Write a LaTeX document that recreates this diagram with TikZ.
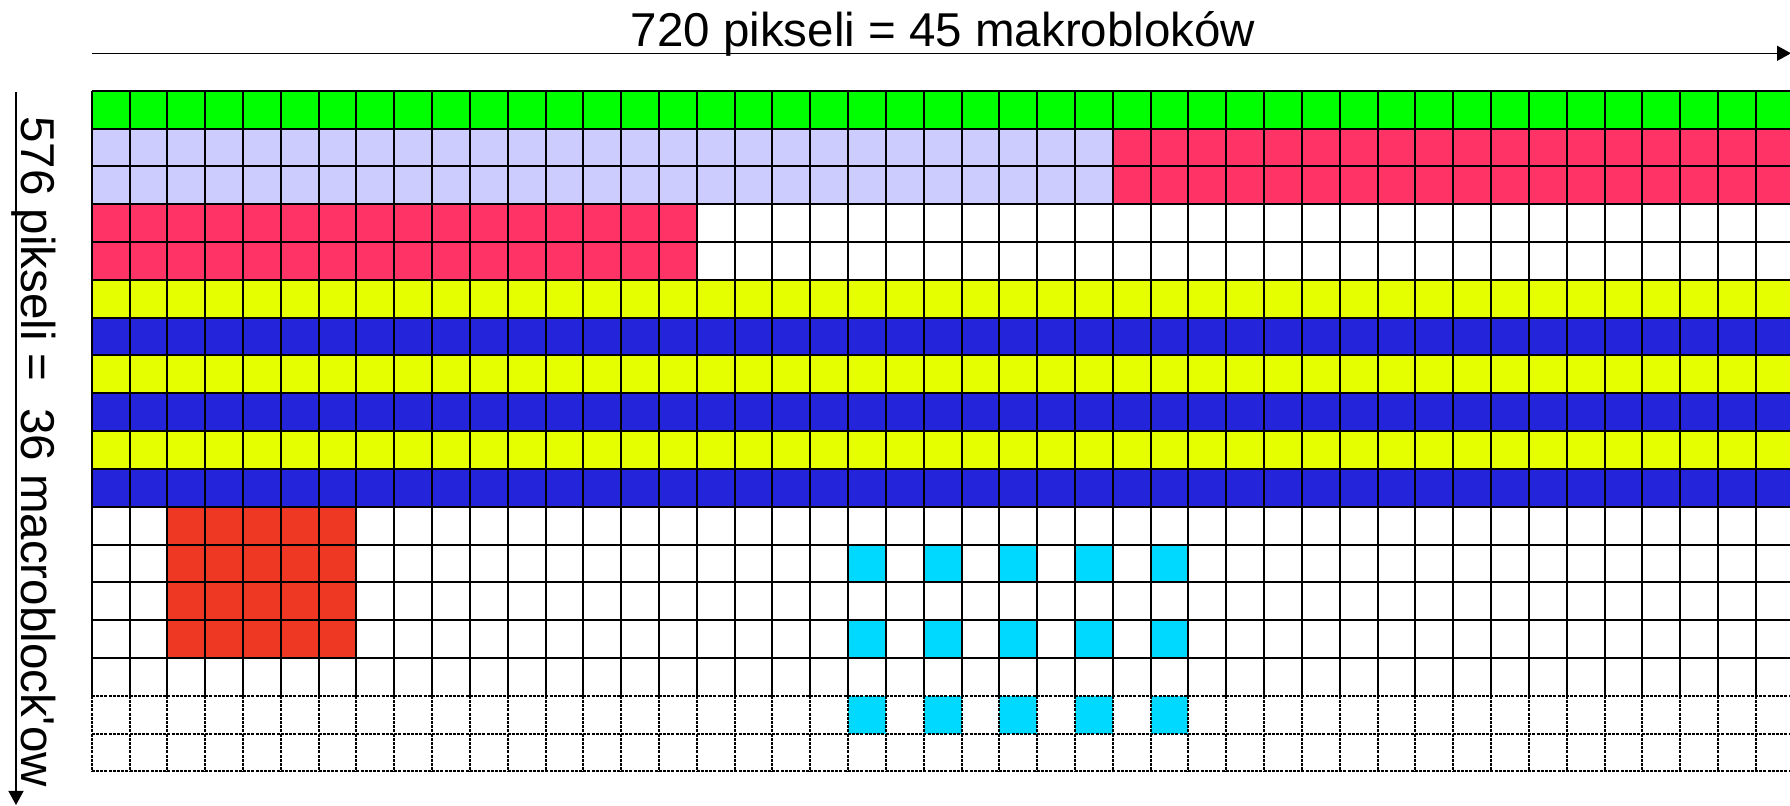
\documentclass[tikz,border=0pt]{standalone}
\usepackage{fontspec}
\setmainfont{Liberation Sans}
\usetikzlibrary{arrows.meta}
\definecolor{cgreen}{HTML}{00FF00}
\definecolor{clav}{HTML}{CCCCFF}
\definecolor{cpink}{HTML}{FF3366}
\definecolor{cyel}{HTML}{E5FF00}
\definecolor{cblue}{HTML}{2424DA}
\definecolor{cred}{HTML}{EE3824}
\definecolor{ccyan}{HTML}{00D9FF}
\tikzset{
  gridline/.style={draw=black, line width=1pt},
  dotline/.style={draw=black, line width=1pt, dash pattern=on 1.5pt off 0.6pt},
  dimarrow/.style={draw=black, line width=0.7pt, -{Triangle[length=7pt,width=7.5pt]}},
  dimlabel/.style={inner sep=0pt, font=\fontsize{23.75pt}{28pt}\selectfont}
}
\begin{document}
\begin{tikzpicture}[x=0.5pt,y=-0.5pt]
\useasboundingbox (0,0) rectangle (1790,806);
\clip (0,0) rectangle (1790,806);
\begin{scope}[xshift=45.85pt, yshift=-45.35pt, x=18.91pt, y=-18.91pt]
  % fills
  \fill[cgreen] (0,0) rectangle (45,1);
  \fill[clav] (0,1) rectangle (27,3);
  \fill[cpink] (27,1) rectangle (45,3);
  \fill[cpink] (0,3) rectangle (16,5);
  \foreach \r in {5,7,9} \fill[cyel] (0,\r) rectangle (45,\r+1);
  \foreach \r in {6,8,10} \fill[cblue] (0,\r) rectangle (45,\r+1);
  \fill[cred] (2,11) rectangle (7,15);
  \foreach \c in {20,22,24,26,28} {
    \foreach \r in {12,14,16} \fill[ccyan] (\c,\r) rectangle ++(1,1);
  }
  % solid grid
  \foreach \i in {0,...,45} \draw[gridline] (\i,0) -- (\i,16);
  \foreach \j in {0,...,15} \draw[gridline] (0,\j) -- (45,\j);
  % dotted part
  \foreach \i in {0,...,45} \draw[dotline] (\i,16) -- (\i,18);
  \foreach \j in {16,17,18} \draw[dotline] (0,\j) -- (45,\j);
\end{scope}
% dimension arrows
\coordinate (hs) at (91.7,53.3);
\coordinate (he) at (1791,53.3);
\draw[dimarrow] (hs) -- (he);
\coordinate (vs) at (16,91.7);
\coordinate (ve) at (16,805);
\draw[dimarrow] (vs) -- (ve);
% labels
\node[dimlabel, anchor=base] (htext) at (943,47) {720 pikseli = 45 makrobloków};
\node[dimlabel, rotate=-90, anchor=base west] (vtext) at (21.7,116) {576 pikseli =\ \ 36 macroblock\textquotesingle ow};
\end{tikzpicture}
\end{document}
